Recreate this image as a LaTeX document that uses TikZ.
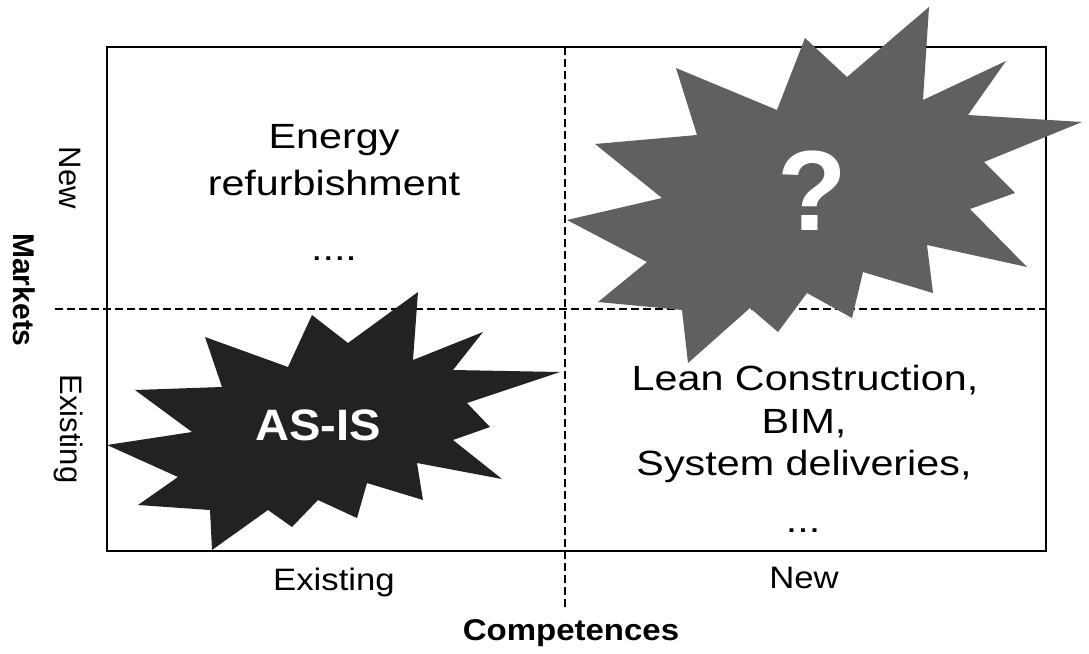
\documentclass[tikz,border=0pt]{standalone}
\usepackage{fontspec}
\setmainfont{Liberation Sans}
\definecolor{asis}{HTML}{222222}
\definecolor{qgray}{HTML}{606060}
\tikzset{
  body/.style={font=\fontsize{35}{42}\selectfont, xscale=1.18, anchor=base, inner sep=0pt},
  axislabel/.style={font=\fontsize{31}{37}\selectfont, xscale=1.12, anchor=base, inner sep=0pt},
  axistitle/.style={font=\bfseries\fontsize{30}{36}\selectfont, xscale=1.1, anchor=base, inner sep=0pt},
  sidelabel/.style={font=\fontsize{31}{37}\selectfont, rotate=-90, anchor=base, inner sep=0pt},
  sidetitle/.style={font=\bfseries\fontsize{30}{36}\selectfont, rotate=-90, anchor=base, inner sep=0pt},
  frame/.style={draw=black, line width=2pt},
  divider/.style={draw=black, line width=2pt, dash pattern=on 8pt off 4pt},
  burstA/.style={fill=asis},
  burstQ/.style={fill=qgray},
  bursttext/.style={text=white, anchor=base, inner sep=0pt},
}
\begin{document}
\begin{tikzpicture}[x=1pt, y=-1pt]
\useasboundingbox (0,0) rectangle (1089,653);
% frame and dividers
\coordinate (tl) at (107,47);
\coordinate (br) at (1046,551);
\draw[frame] (tl) rectangle (br);
\coordinate (vtop) at (565,47);
\coordinate (vbot) at (565,607);
\coordinate (hleft) at (55,309);
\coordinate (hright) at (1046,309);
\draw[divider] (vtop) -- (vbot);
\draw[divider] (hleft) -- (hright);
% quadrant texts
\node[body] (e1) at (334,148) {Energy};
\node[body] (e2) at (334,195) {refurbishment};
\node[body] (e3) at (334,260) {....};
\node[body] (l1) at (805,390) {Lean Construction,};
\node[body] (l2) at (804,433) {BIM,};
\node[body] (l3) at (804,475) {System deliveries,};
\node[body] (l4) at (803,532) {...};
% bursts
\path[burstA] (107,445) -- (192,432) -- (135,390) -- (222,387) -- (205,337) -- (288,367)
  -- (312,315) -- (348,343) -- (418,292) -- (413,360) -- (483,332) -- (453,370)
  -- (560,372) -- (467,403) -- (490,427) -- (453,440) -- (502,479) -- (417,463)
  -- (423,500) -- (367,483) -- (357,518) -- (318,500) -- (292,527) -- (268,510)
  -- (212,550) -- (210,510) -- (138,505) -- (178,477) -- cycle;
\path[burstQ] (567,220) -- (662,198) -- (595,144) -- (697,135) -- (676,68) -- (777,110)
  -- (805,38) -- (847,77) -- (929,7) -- (923,100) -- (1006,61) -- (968,115)
  -- (1082,122) -- (984,162) -- (1015,193) -- (970,209) -- (1027,267) -- (927,245)
  -- (933,293) -- (863,272) -- (852,318) -- (807,293) -- (778,332) -- (750,308)
  -- (688,363) -- (682,310) -- (598,302) -- (647,262) -- cycle;
\node[bursttext, font=\bfseries\fontsize{44}{50}\selectfont, xscale=1.07] (asis) at (318,440) {AS-IS};
\node[bursttext, font=\bfseries\fontsize{114}{120}\selectfont] (q) at (812,230) {?};
% axis labels
\node[axislabel] (cex) at (334,590) {Existing};
\node[axislabel] (cnew) at (804,588) {New};
\node[axistitle] (comp) at (571,640) {Competences};
\node[sidelabel] (mnew) at (59,178) {New};
\node[sidelabel] (mex) at (60,429) {Existing};
\node[sidetitle] (mkt) at (13,290) {Markets};
\end{tikzpicture}
\end{document}
